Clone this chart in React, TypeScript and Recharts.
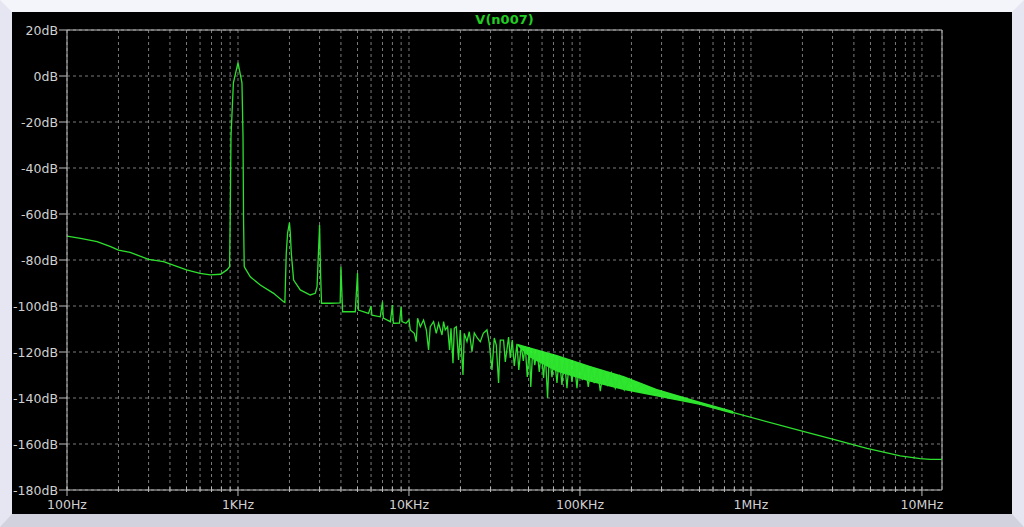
import { ComposedChart, Line, Area, XAxis, YAxis, CartesianGrid, ReferenceLine } from 'recharts'

// FFT of V(n007) (Hz, dB)
const traceFreq = [
  100, 120, 150, 180, 200, 234, 300, 367, 500, 600, 690, 790, 862, 893,
  900, 910, 940, 1000, 1055, 1070, 1078, 1088, 1100, 1180, 1350, 1616, 1848, 1880,
  1916, 1950, 2000, 2023, 2050, 2115, 2313, 2646, 2831, 2900, 3000, 3040, 3080,
  3467, 3960, 4000, 4090, 4850, 5000, 5060, 5800, 6000, 6070, 6790, 7000, 7080,
  7780, 8000, 8100, 8800, 9000, 9100, 9600, 10000,
  10180, 10740, 11030, 11230, 11650, 12170, 12630, 13020, 13320, 13930, 14440, 14900,
  15600, 15930, 16300, 16820, 17280, 17610, 18090, 18410, 18910, 19500, 19950, 20690,
  21060, 21840, 22520, 23360, 24100, 25090, 26120, 27200, 28580, 29480, 30580, 31540,
  32400, 33420, 34190, 35740, 36580, 38230, 39120, 40190, 41290, 42820, 43870, 45370,
  46610, 47870, 49180, 50520, 51550, 52970, 54420, 56050, 57810, 59390, 61250, 62680,
  64650, 66140, 68590, 70740, 73360, 75660, 78460, 80930, 83950, 86580, 89790, 92620,
  96050, 99060, 103200, 107400, 111800, 116500, 121200, 126300, 131500, 136900, 144400,
  152400, 160900, 169800, 181600, 194200, 210500, 228300, 257700, 294900, 337500,
  412900, 505100, 791300, 1943000, 3041000, 4769000, 7466000, 9775000, 11180000, 13100000,
]
const traceDb = [
  -69.6, -70.6, -72.0, -74.2, -75.7, -76.7, -79.7, -80.7, -84.3, -85.8, -86.5, -86.2, -84.3, -82.9,
  -63.5, -26.4, -3.0, 5.8, -3.0, -26.4, -63.3, -82.9, -83.5, -87.3, -90.9, -94.5, -98.1, -98.4,
  -77.0, -68.3, -63.8, -68.3, -77.0, -88.7, -93.0, -95.2, -94.5, -91.6, -64.8, -85.7, -98.8,
  -98.8, -98.6, -82.9, -102.5, -102.5, -85.7, -101.8, -103.2, -100.0, -104.0, -104.7, -98.1, -105.3,
  -106.8, -99.6, -107.5, -107.4, -100.3, -106.8, -107.5, -106.1,
  -110.4, -111.9, -115.5, -105.3, -109.0, -106.1, -110.4, -119.1, -109.0, -106.8, -111.9, -107.5,
  -112.6, -106.8, -110.4, -109.0, -119.1, -109.7, -124.9, -109.7, -109.0, -123.5, -110.4, -130.0,
  -111.9, -115.5, -111.2, -119.9, -111.7, -113.9, -115.5, -111.9, -110.4, -116.1, -127.8, -113.9,
  -117.0, -133.5, -114.8, -114.8, -124.3, -113.5, -122.6, -114.8, -126.1, -116.5, -127.8, -117.0,
  -123.9, -117.4, -130.9, -117.8, -135.2, -118.7, -125.7, -119.1, -128.7, -120.0, -131.3, -120.4,
  -140.0, -120.9, -130.9, -121.7, -133.5, -122.2, -134.3, -122.6, -135.7, -123.5, -133.0, -123.9,
  -135.7, -124.8, -132.2, -125.7, -135.2, -126.5, -133.5, -127.4, -137.0, -128.3, -134.3,
  -129.1, -135.7, -130.4, -136.5, -131.7, -137.0, -133.9, -137.8, -137.4, -139.6,
  -140.9, -142.6, -146.4, -154.2, -158.0, -161.9, -165.2, -166.4, -166.7, -166.7,
]

// dense part of the spectrum, drawn as a filled band
const bandFreq = [43000, 51220, 73360, 114900, 179900, 282000, 505100, 788200]
const bandLow = [-117.2, -122.5, -128.6, -132.9, -136.5, -139.4, -143.0, -147.0]
const bandHigh = [-116.4, -118.0, -121.3, -126.1, -130.4, -136.1, -141.6, -145.7]

const decades = [100, 1000, 10000, 100000, 1000000, 10000000]
const decadeLabels = ['100Hz', '1KHz', '10KHz', '100KHz', '1MHz', '10MHz']
const multiples = [1, 2, 3, 4, 5, 6, 7, 8, 9]
const dbTicks = [-180, -160, -140, -120, -100, -80, -60, -40, -20, 0, 20]

const X_MIN = 100
const X_MAX = 13100000

const xTicks = decades.flatMap(d => multiples.map(m => d * m)).filter(f => f <= X_MAX)

type Row = { f: number; db?: number; band?: [number, number] }

const rows: Row[] = [
  ...traceFreq.map((f, i) => ({ f, db: traceDb[i] } as Row)),
  ...bandFreq.map((f, i) => ({ f: f * 1.0001, band: [bandLow[i], bandHigh[i]] } as Row)),
].sort((a, b) => a.f - b.f)

const AXIS = '#bdbdbd'
const GRID = '#7a7a7a'
const LABEL = '#d0d0d0'
const TRACE = '#2ee02e'
const FONT = '"DejaVu Sans", Verdana, sans-serif'

function XTick(props: any) {
  const { x, y, payload } = props
  const idx = decades.findIndex(d => Math.abs(d - payload.value) < d * 1e-6)
  const major = idx >= 0
  return (
    <g>
      <line x1={x} x2={x} y1={y - 3} y2={major ? y + 6 : y + 2} stroke={AXIS} />
      {major && (
        <text x={x} y={y + 19} textAnchor="middle" fill={LABEL} fontSize={12.5} fontFamily={FONT}>
          {decadeLabels[idx]}
        </text>
      )}
    </g>
  )
}

function YTick(props: any) {
  const { x, y, payload } = props
  return (
    <g>
      <line x1={x - 8} x2={x} y1={y} y2={y} stroke={AXIS} />
      <text x={x - 9} y={y + 4.5} textAnchor="end" fill={LABEL} fontSize={12.5} fontFamily={FONT}>
        {`${payload.value}dB`}
      </text>
    </g>
  )
}

export default function App() {
  return (
    <div
      style={{
        position: 'fixed',
        left: 0,
        top: 0,
        width: 1024,
        height: 527,
        boxSizing: 'border-box',
        background: '#000',
        borderTop: '12px solid #f4f4fb',
        borderLeft: '12px solid #e6e6f2',
        borderRight: '12px solid #e6e6f2',
        borderBottom: '13px solid #d2d2de',
      }}
    >
      <div
        style={{
          position: 'absolute',
          left: 55,
          top: 1,
          width: 875,
          textAlign: 'center',
          color: '#22cc22',
          fontFamily: FONT,
          fontWeight: 'bold',
          fontSize: 13,
          lineHeight: '14px',
        }}
      >
        V(n007)
      </div>
      <ComposedChart width={1000} height={502} data={rows} margin={{ top: 18, right: 70, bottom: 0, left: 0 }}>
        <CartesianGrid stroke={GRID} strokeDasharray="3 3" />
        <XAxis
          dataKey="f"
          type="number"
          scale="log"
          domain={[X_MIN, X_MAX]}
          allowDataOverflow
          ticks={xTicks}
          interval={0}
          tick={<XTick />}
          tickLine={false}
          tickSize={0}
          tickMargin={0}
          height={24}
          axisLine={{ stroke: AXIS }}
        />
        <YAxis
          type="number"
          domain={[-180, 20]}
          ticks={dbTicks}
          interval={0}
          tick={<YTick />}
          tickLine={false}
          tickSize={0}
          tickMargin={0}
          width={55}
          axisLine={{ stroke: AXIS }}
        />
        <ReferenceLine y={20} stroke={AXIS} />
        <ReferenceLine x={X_MAX} stroke={AXIS} />
        <Area
          dataKey="band"
          stroke="none"
          fill="#33ff33"
          fillOpacity={0.9}
          connectNulls
          isAnimationActive={false}
          activeDot={false}
        />
        <Line
          dataKey="db"
          type="linear"
          stroke={TRACE}
          strokeWidth={1.3}
          dot={false}
          activeDot={false}
          connectNulls
          isAnimationActive={false}
        />
      </ComposedChart>
    </div>
  )
}
